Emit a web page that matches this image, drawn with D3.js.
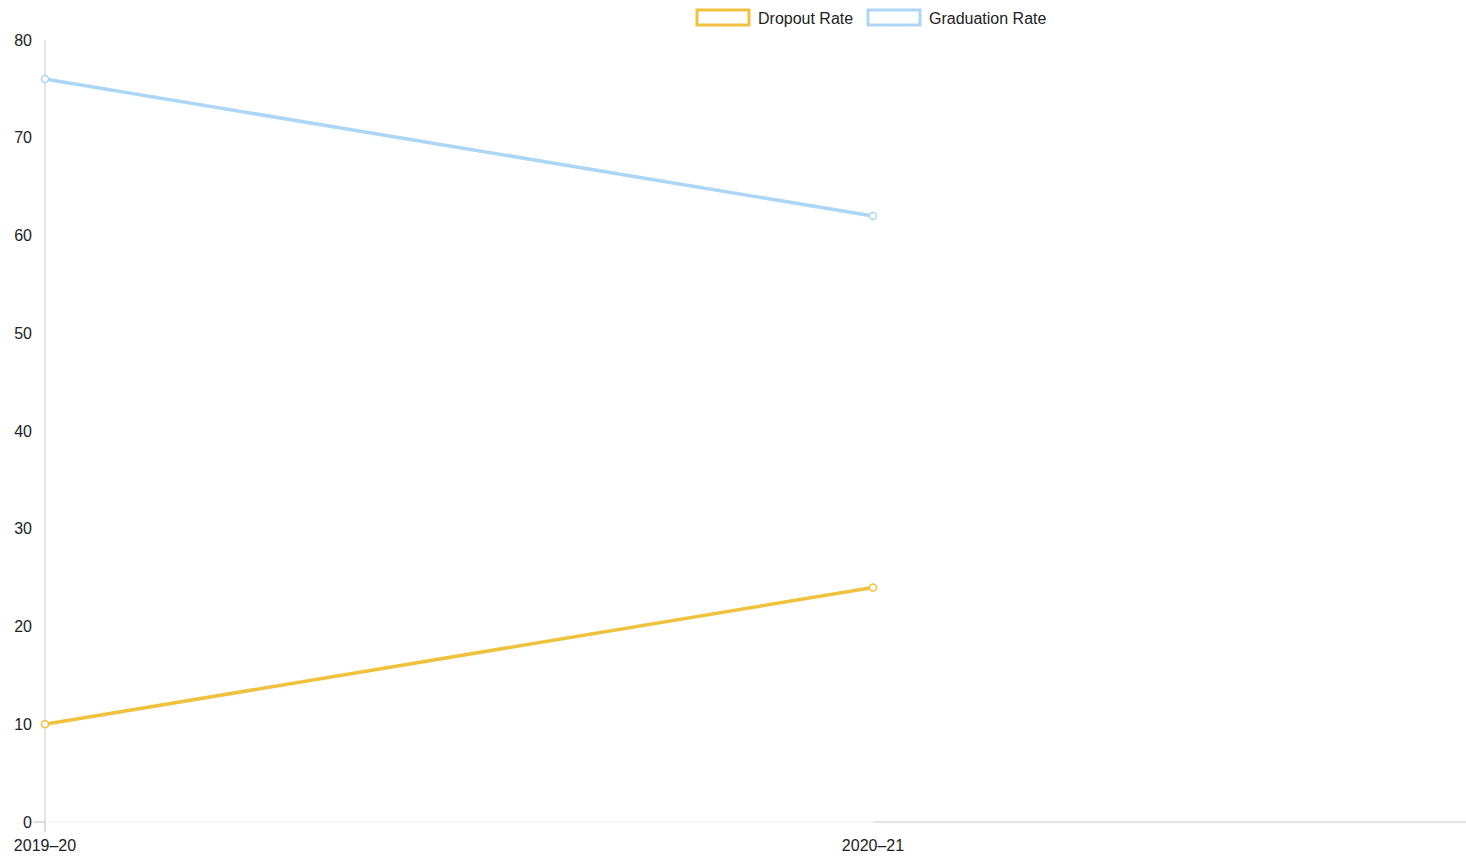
<!DOCTYPE html>
<html lang="en">
<head>
  <meta charset="UTF-8">
  <style>
    body { margin: 0; overflow: hidden; background: #fff; }
    svg { display: block; }
    text { font-family: "Liberation Sans", Arial, sans-serif; font-size: 16px; fill: #222; }
  </style>
  <script src="https://d3js.org/d3.v7.min.js"></script>
</head>
<body>
<svg id="chart"></svg>
<script>
  const years = ["2019–20", "2020–21"];
  const dropout = [10, 24];
  const graduation = [76, 62];
  const yTicks = [0, 10, 20, 30, 40, 50, 60, 70, 80];

  const series = [
    { name: "Dropout Rate", values: dropout, color: "#f0c13d" },
    { name: "Graduation Rate", values: graduation, color: "#acd6f6" }
  ];

  const W = 1466, H = 860;
  const svg = d3.select("#chart").attr("width", W).attr("height", H);

  const x = d3.scalePoint().domain(years).range([45, 873]);
  const y = d3.scaleLinear().domain([0, 80]).range([822, 40]);

  // y axis line
  svg.append("line")
    .attr("x1", 45).attr("x2", 45)
    .attr("y1", y(80)).attr("y2", y(0))
    .attr("stroke", "#ccc");

  // y tick labels
  svg.selectAll(".ylab").data(yTicks).enter().append("text")
    .attr("x", 32).attr("y", d => y(d))
    .attr("dy", "0.35em")
    .attr("text-anchor", "end")
    .text(d => d);

  // baseline pieces
  svg.append("line").attr("x1", 33).attr("x2", 45).attr("y1", y(0)).attr("y2", y(0)).attr("stroke", "#bbb");
  svg.append("line").attr("x1", 45).attr("x2", x(years[1])).attr("y1", y(0)).attr("y2", y(0)).attr("stroke", "#f2f2f2");
  svg.append("line").attr("x1", x(years[1])).attr("x2", W).attr("y1", y(0)).attr("y2", y(0)).attr("stroke", "#c8c8c8");
  svg.append("line").attr("x1", 45).attr("x2", 45).attr("y1", y(0)).attr("y2", y(0) + 10).attr("stroke", "#bbb");

  // x labels
  svg.selectAll(".xlab").data(years).enter().append("text")
    .attr("x", d => x(d)).attr("y", 851)
    .attr("text-anchor", "middle")
    .text(d => d);

  const line = d3.line().x((d, i) => x(years[i])).y(d => y(d));

  series.forEach(s => {
    svg.append("path")
      .attr("d", line(s.values))
      .attr("fill", "none")
      .attr("stroke", s.color)
      .attr("stroke-width", 3.5);
    svg.selectAll(null).data(s.values).enter().append("circle")
      .attr("cx", (d, i) => x(years[i]))
      .attr("cy", d => y(d))
      .attr("r", 3.5)
      .attr("fill", "#fff")
      .attr("stroke", s.color)
      .attr("stroke-width", 1.5);
  });

  // legend
  const legendX = [697, 868];
  series.forEach((s, i) => {
    svg.append("rect")
      .attr("x", legendX[i]).attr("y", 10)
      .attr("width", 52).attr("height", 15)
      .attr("fill", "#fff")
      .attr("stroke", s.color)
      .attr("stroke-width", 3);
    svg.append("text")
      .attr("x", legendX[i] + 61).attr("y", 18)
      .attr("dy", "0.35em")
      .text(s.name);
  });
</script>
</body>
</html>
